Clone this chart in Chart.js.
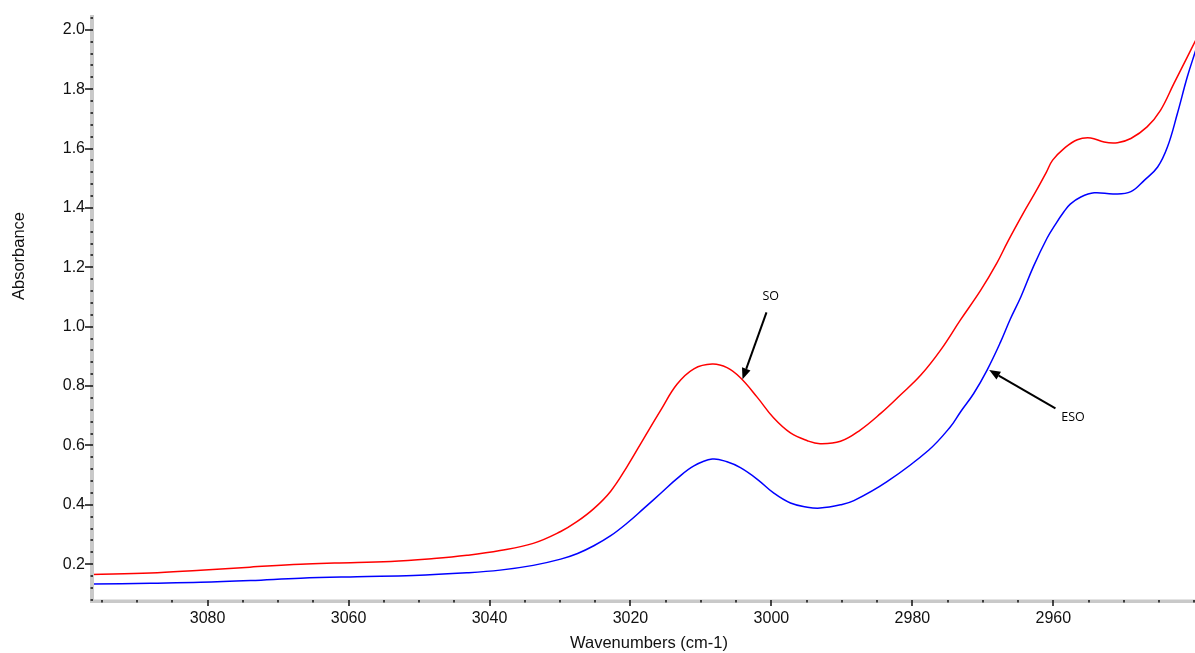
<!DOCTYPE html>
<html><head><meta charset="utf-8">
<script src="https://cdn.jsdelivr.net/npm/chart.js@4"></script>
<style>html,body{margin:0;padding:0;background:#fff;overflow:hidden}</style>
</head><body>
<canvas id="c" width="1195" height="653"></canvas>
<script>
// ---- data ----
const soWavenumbers = [3096.4,3088.1,3081.0,3074.0,3066.8,3062.0,3054.0,3047.9,3043.2,3038.5,3033.8,3029.9,3027.6,3025.2,3022.8,3020.5,3018.1,3015.7,3013.4,3011.0,3008.4,3006.3,3004.4,3002.0,2999.7,2997.3,2994.9,2993.1,2990.2,2987.4,2984.5,2981.7,2978.8,2976.0,2973.2,2970.3,2968.0,2966.5,2964.2,2962.5,2961.0,2960.1,2958.5,2956.6,2954.7,2952.8,2950.9,2949.0,2946.7,2944.8,2942.9,2941.0,2939.8];
const soAbsorbance  = [0.165,0.170,0.180,0.190,0.200,0.204,0.209,0.219,0.230,0.246,0.270,0.310,0.343,0.387,0.446,0.528,0.624,0.719,0.806,0.858,0.874,0.862,0.828,0.762,0.693,0.642,0.616,0.606,0.614,0.652,0.708,0.770,0.837,0.921,1.022,1.123,1.215,1.285,1.385,1.455,1.520,1.561,1.600,1.630,1.636,1.622,1.620,1.634,1.673,1.729,1.819,1.908,1.965];
const esoWavenumbers = [3096.4,3088.1,3081.0,3073.9,3066.8,3058.8,3050.8,3043.2,3038.5,3033.8,3029.9,3027.5,3025.2,3022.8,3020.5,3018.1,3015.7,3013.4,3011.0,3008.4,3006.3,3004.4,3002.0,2999.7,2997.3,2994.9,2993.1,2990.2,2988.3,2983.6,2977.7,2974.6,2973.2,2971.3,2969.4,2967.5,2966.1,2964.6,2962.8,2960.9,2959.7,2958.5,2957.6,2956.1,2954.2,2951.4,2949.0,2947.1,2945.2,2943.8,2942.4,2941.0,2939.8];
const esoAbsorbance  = [0.133,0.136,0.139,0.145,0.153,0.158,0.162,0.171,0.180,0.196,0.217,0.236,0.262,0.296,0.338,0.388,0.439,0.488,0.531,0.554,0.545,0.525,0.486,0.440,0.406,0.392,0.389,0.400,0.414,0.478,0.584,0.663,0.712,0.775,0.854,0.948,1.026,1.101,1.204,1.298,1.345,1.387,1.413,1.437,1.451,1.447,1.455,1.493,1.538,1.606,1.718,1.841,1.931];
const seriesNames = ['SO','ESO'];
const xTickLabels = ['3080','3060','3040','3020','3000','2980','2960'];
const yTickLabels = ['0.2','0.4','0.6','0.8','1.0','1.2','1.4','1.6','1.8','2.0'];
const annotationLabels = ['SO','ESO'];
const annotationTextWn  = [3000.1, 2957.2];
const annotationTextAbs = [1.101, 0.695];
const arrowFromWn  = [3000.7, 2959.7];
const arrowFromAbs = [1.048, 0.725];
const arrowToWn    = [3004.1, 2969.1];
const arrowToAbs   = [0.823, 0.854];
const xTitle = 'Wavenumbers (cm-1)';
const yTitle = 'Absorbance';

const toPts = (xs, ys) => xs.map((x, i) => ({x, y: ys[i]}));
const FONT = "'Liberation Sans', Arial, Helvetica, sans-serif";

const axesPlugin = {
  id: 'spectraAxes',
  afterDatasetsDraw(chart) {
    const ctx = chart.ctx, ca = chart.chartArea;
    const xs = chart.scales.x, ys = chart.scales.y;
    ctx.save();
    // gray axis bands
    ctx.fillStyle = '#c9c9c9';
    ctx.fillRect(ca.left - 2, ca.top, 4, ca.bottom - ca.top + 2);
    ctx.fillRect(ca.left - 2, ca.bottom - 1.5, ca.right - ca.left + 2, 3.5);
    ctx.fillStyle = '#111';
    ys.ticks.forEach(t => {
      const p = Math.round(ys.getPixelForValue(t.value));
      if (t.label) ctx.fillRect(ca.left - 7, p - 0.75, 8, 1.5);
      else ctx.fillRect(ca.left - 1.5, p - 0.75, 2.5, 1.5);
    });
    xs.ticks.forEach(t => {
      const p = Math.round(xs.getPixelForValue(t.value));
      if (t.label) ctx.fillRect(p - 0.75, ca.bottom - 1, 1.5, 6);
      else ctx.fillRect(p - 0.75, ca.bottom - 1, 1.5, 2.5);
    });
    // annotations
    ctx.strokeStyle = '#000'; ctx.fillStyle = '#000'; ctx.lineWidth = 2;
    for (let i = 0; i < annotationLabels.length; i++) {
      const x1 = xs.getPixelForValue(arrowFromWn[i]), y1 = ys.getPixelForValue(arrowFromAbs[i]);
      const x2 = xs.getPixelForValue(arrowToWn[i]), y2 = ys.getPixelForValue(arrowToAbs[i]);
      const a = Math.atan2(y2 - y1, x2 - x1), L = 11, W = 4.5;
      const bx = x2 - L * Math.cos(a), by = y2 - L * Math.sin(a);
      ctx.beginPath(); ctx.moveTo(x1, y1); ctx.lineTo(bx, by); ctx.stroke();
      ctx.beginPath();
      ctx.moveTo(x2, y2);
      ctx.lineTo(bx + W * Math.sin(a), by - W * Math.cos(a));
      ctx.lineTo(bx - W * Math.sin(a), by + W * Math.cos(a));
      ctx.closePath(); ctx.fill();
      ctx.font = "12.5px 'Open Sans', sans-serif";
      ctx.textAlign = 'center'; ctx.textBaseline = 'middle';
      ctx.fillText(annotationLabels[i], xs.getPixelForValue(annotationTextWn[i]), ys.getPixelForValue(annotationTextAbs[i]));
    }
    ctx.restore();
  },
  afterDraw(chart) {
    const ctx = chart.ctx;
    ctx.save();
    ctx.fillStyle = '#111';
    ctx.font = '16.5px ' + FONT;
    ctx.textAlign = 'center'; ctx.textBaseline = 'middle';
    ctx.fillText(xTitle, 649, 643);
    ctx.translate(19, 256); ctx.rotate(-Math.PI / 2);
    ctx.fillText(yTitle, 0, 0);
    ctx.restore();
  }
};

const zeroPad = s => { s.paddingLeft = 0; s.paddingRight = 0; s.paddingTop = 0; s.paddingBottom = 0; };

new Chart(document.getElementById('c'), {
  type: 'line',
  data: {
    datasets: [
      {label: seriesNames[0], data: toPts(soWavenumbers, soAbsorbance), borderColor: '#ff0000', borderWidth: 1.5, pointRadius: 0, tension: 0.4, fill: false},
      {label: seriesNames[1], data: toPts(esoWavenumbers, esoAbsorbance), borderColor: '#0000ff', borderWidth: 1.5, pointRadius: 0, tension: 0.4, fill: false}
    ]
  },
  options: {
    responsive: false, animation: false, devicePixelRatio: 1,
    layout: {padding: {top: 15, right: 0, left: 0, bottom: 0}},
    plugins: {legend: {display: false}, tooltip: {enabled: false}},
    scales: {
      x: {
        type: 'linear', reverse: true, min: 2939.9, max: 3096.4,
        grid: {display: false, drawTicks: false}, border: {display: false},
        afterFit: s => { s.height = 52; zeroPad(s); },
        ticks: {
          stepSize: 5, autoSkip: false, maxRotation: 0, includeBounds: false, padding: 8,
          color: '#111', font: {family: FONT, size: 16},
          callback: v => { const s = String(Math.round(v)); return (Math.abs(v - Math.round(v)) < 1e-6 && xTickLabels.includes(s)) ? s : ''; }
        }
      },
      y: {
        type: 'linear', min: 0.076, max: 2.05,
        grid: {display: false, drawTicks: false}, border: {display: false},
        afterFit: s => { s.width = 92; zeroPad(s); },
        ticks: {
          stepSize: 0.04, autoSkip: false, includeBounds: false, padding: 7,
          color: '#111', font: {family: FONT, size: 16},
          callback: v => { const s = v.toFixed(1); return (Math.abs(v * 5 - Math.round(v * 5)) < 1e-6 && yTickLabels.includes(s)) ? s : ''; }
        }
      }
    }
  },
  plugins: [axesPlugin]
});
</script>
</body></html>
